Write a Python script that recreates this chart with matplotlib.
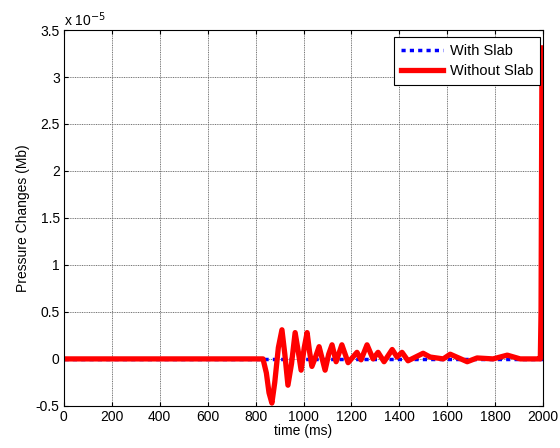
import numpy as np
import matplotlib
matplotlib.use("Agg")
from matplotlib import pyplot as plt

plt.rcParams["font.family"] = ["Liberation Sans", "DejaVu Sans"]
plt.rcParams["font.size"] = 10

# values in units of 1e-5 Mb
t_without = [0, 200, 400, 600, 800, 831, 845, 856, 868, 880, 895, 910, 922, 935, 950,
             965, 978, 990, 1003, 1015, 1025, 1035, 1050, 1065, 1078, 1090, 1105, 1119,
             1136, 1160, 1186, 1223, 1240, 1265, 1290, 1311, 1336, 1370, 1390, 1411,
             1436, 1499, 1528, 1583, 1612, 1683, 1724, 1791, 1850, 1904, 1975, 1988,
             1991, 1995]
p_without = [0, 0, 0, 0, 0, 0, -0.15, -0.36, -0.47, -0.25, 0.12, 0.31, 0.05, -0.28, -0.05,
             0.28, 0.08, -0.12, 0.12, 0.28, 0.08, -0.08, 0.02, 0.13, 0.0, -0.12, 0.05, 0.15,
             -0.03, 0.15, -0.04, 0.07, -0.01, 0.15, 0.0, 0.07, -0.03, 0.10, 0.02, 0.07,
             -0.02, 0.06, 0.02, 0.0, 0.05, -0.03, 0.01, 0.0, 0.04, 0.0, 0.0, 0.0,
             0.5, 3.31]

t_with = [0, 2000]
p_with = [0, 0]

fig = plt.figure(figsize=(5.6, 4.48), dpi=100)
ax = fig.add_axes([0.114, 0.094, 0.856, 0.839])

ax.plot(t_with, p_with, color="blue", linestyle=(0, (1.2, 1.2)), linewidth=2.5, label="With Slab")
ax.plot(t_without, p_without, color="red", linewidth=3.8, solid_joinstyle="round",
        label="Without Slab")

ax.set_xlim(0, 2000)
ax.set_ylim(-0.5, 3.5)
ax.set_xticks(np.arange(0, 2001, 200))
ax.set_yticks(np.arange(-0.5, 3.51, 0.5))
ax.set_yticklabels(["-0.5", "0", "0.5", "1", "1.5", "2", "2.5", "3", "3.5"])
ax.tick_params(direction="in", top=True, right=True, length=3, pad=3)
ax.grid(True, color="0.45", linestyle=(0, (1, 0.8)), linewidth=0.7)
ax.set_axisbelow(True)

ax.text(0.0, 1.012, r"x 10$^{-5}$", transform=ax.transAxes)
ax.set_xlabel("time (ms)", labelpad=0)
ax.set_ylabel("Pressure Changes (Mb)", labelpad=4)

leg = ax.legend(loc="upper right", bbox_to_anchor=(0.994, 0.982), fancybox=False,
                edgecolor="black", framealpha=1, handlelength=2.9, borderpad=0.5,
                labelspacing=0.4, handletextpad=0.45, borderaxespad=0, fontsize=10.5)
leg.get_frame().set_linewidth(0.8)

plt.savefig("out.png", dpi=100)
